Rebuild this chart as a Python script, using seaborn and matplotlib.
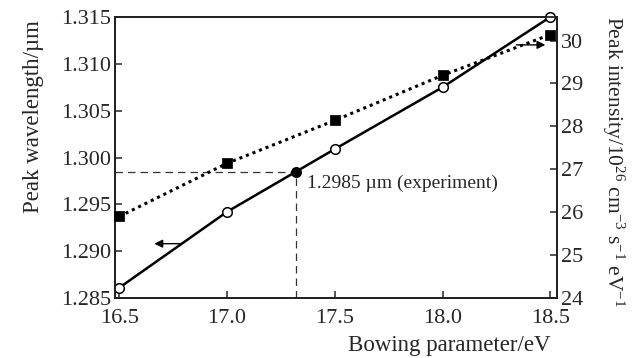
import matplotlib
matplotlib.use("Agg")
import matplotlib.pyplot as plt
import seaborn as sns
import pandas as pd

# Bowing parameter sweep (eV)
bowing = [16.5, 17.0, 17.5, 18.0, 18.5]
# Peak wavelength (um), left axis
peak_wavelength = [1.2861, 1.2942, 1.3009, 1.3075, 1.3150]
# Peak intensity (1e26 cm^-3 s^-1 eV^-1), right axis
peak_intensity = [25.90, 27.14, 28.14, 29.19, 30.14]
# Experimental peak wavelength and the matching bowing parameter
exp_bowing = 17.32
exp_wavelength = 1.2985

xticks = [16.5, 17.0, 17.5, 18.0, 18.5]
yticks_left = [1.285, 1.290, 1.295, 1.300, 1.305, 1.310, 1.315]
yticks_right = [24, 25, 26, 27, 28, 29, 30]

sns.set_style("ticks")
plt.rcParams["font.family"] = ["Liberation Serif", "DejaVu Serif"]
plt.rcParams["mathtext.fontset"] = "custom"
plt.rcParams["mathtext.rm"] = "Liberation Serif"
plt.rcParams["mathtext.it"] = "Liberation Serif:italic"
plt.rcParams["xtick.direction"] = "in"
plt.rcParams["ytick.direction"] = "in"

df = pd.DataFrame({"bowing": bowing, "wavelength": peak_wavelength,
                   "intensity": peak_intensity})

fig = plt.figure(figsize=(6.37, 3.58), dpi=100)
ax = fig.add_axes([0.1805, 0.1676, 0.874 - 0.1805, 0.9525 - 0.1676])
ax2 = ax.twinx()

# wavelength: solid line with open circles
sns.lineplot(data=df, x="bowing", y="wavelength", ax=ax, color="black",
             linewidth=1.8, zorder=3)
sns.scatterplot(data=df, x="bowing", y="wavelength", ax=ax, marker="o",
                s=48, facecolor="white", edgecolor="black", linewidth=1.1,
                zorder=4, clip_on=False)

# intensity: dotted line with filled squares
sns.lineplot(data=df, x="bowing", y="intensity", ax=ax2, color="black",
             linewidth=2.2, linestyle=(0, (1, 1.3)), zorder=3)
sns.scatterplot(data=df, x="bowing", y="intensity", ax=ax2, marker="s",
                s=42, color="black", edgecolor="black", zorder=4, clip_on=False)

# experimental point and guide lines
ax.plot([16.48, exp_bowing], [exp_wavelength, exp_wavelength], color="#333333",
        linestyle=(0, (6, 4)), linewidth=0.9, zorder=2)
ax.plot([exp_bowing, exp_bowing], [1.285, exp_wavelength], color="#333333",
        linestyle=(0, (6, 4)), linewidth=0.9, zorder=2)
ax.scatter([exp_bowing], [exp_wavelength], s=48, color="black", zorder=5)
ax.text(exp_bowing + 0.05, exp_wavelength - 0.0003, "1.2985 µm (experiment)",
        fontsize=14, ha="left", va="top")

# arrows pointing to the relevant axes
ax.annotate("", xy=(16.65, 1.2908), xytext=(16.80, 1.2908),
            arrowprops=dict(arrowstyle="-|>", color="black", lw=1.0,
                            mutation_scale=12))
ax2.annotate("", xy=(18.49, 29.9), xytext=(18.33, 29.9),
             arrowprops=dict(arrowstyle="-|>", color="black", lw=1.0,
                             mutation_scale=12))

ax.set_xlim(16.48, 18.53)
ax.set_ylim(1.285, 1.315)
ax2.set_ylim(24, 30.55)
ax.set_xticks(xticks)
ax.set_xticklabels([f"{v:.1f}" for v in xticks])
ax.set_yticks(yticks_left)
ax.set_yticklabels([f"{v:.3f}" for v in yticks_left])
ax2.set_yticks(yticks_right)
ax2.set_yticklabels([str(v) for v in yticks_right])

for a in (ax, ax2):
    a.set_xlabel("")
    a.set_ylabel("")
    for s in a.spines.values():
        s.set_linewidth(1.3)
        s.set_color("#222222")
ax.tick_params(axis="both", labelsize=16, length=5, width=1.1)
ax.tick_params(axis="x", pad=8)
ax.tick_params(axis="y", pad=3, right=False)
ax2.tick_params(axis="y", labelsize=16, length=5, width=1.1, pad=3)

fig.text(550 / 637, 1 - 345 / 358, "Bowing parameter/eV", fontsize=16.5,
         ha="right", va="center")
fig.text(0.052, 1 - 117 / 358, "Peak wavelength/µm", fontsize=16.5,
         rotation=90, ha="center", va="center")
fig.text(0.962, 1 - 161 / 358,
         r"Peak intensity/10$^{26}$ cm$^{-3}$ s$^{-1}$ eV$^{-1}$",
         fontsize=15.5, rotation=270, ha="center", va="center")

fig.savefig("out.png", dpi=100)
